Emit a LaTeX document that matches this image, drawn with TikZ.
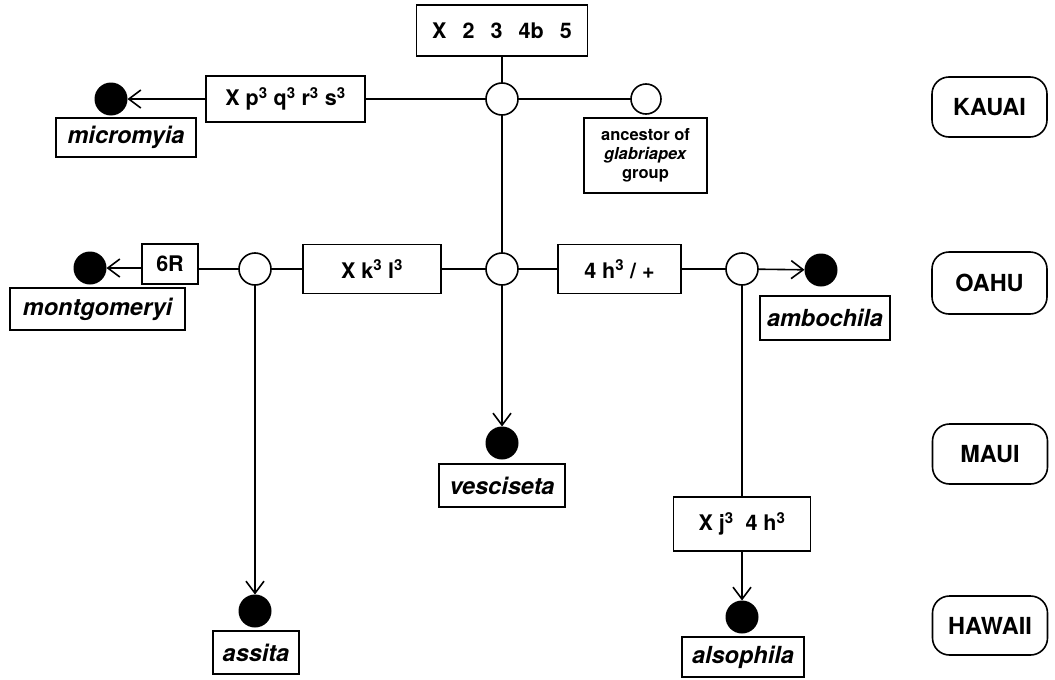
\documentclass[tikz,border=0pt]{standalone}
\usepackage{fontspec}
\setmainfont{TeX Gyre Heros}
\usetikzlibrary{arrows.meta}
\begin{document}
\begin{tikzpicture}[x=1pt,y=-1pt,
  every node/.style={inner sep=0pt, outer sep=0pt, align=center},
  line/.style={line width=1.6pt},
  arr/.style={line width=1.6pt, -{Straight Barb[length=12pt,width=18pt,line width=1.6pt]}},
  charbox/.style={draw, line width=1.6pt, font=\fontsize{21.5}{24}\selectfont\bfseries},
  spbox/.style={draw, line width=1.6pt, font=\fontsize{23.5}{26}\selectfont\bfseries\itshape},
  island/.style={draw, line width=1.6pt, rounded corners=17pt, minimum width=115pt, minimum height=60pt, font=\fontsize{23.5}{26}\selectfont\bfseries},
  anc/.style={draw, circle, line width=1.6pt, fill=white, minimum size=32pt},
  tip/.style={circle, fill=black, minimum size=33pt}
]
\useasboundingbox (0,0) rectangle (1055,680);

% island labels
\node[island] (kauai) at (989.5,107) {KAUAI};
\node[island, minimum height=62pt] (oahu) at (989.5,283) {OAHU};
\node[island] (maui) at (990,454) {MAUI};
\node[island, minimum height=59pt] (hawaii) at (990,625.5) {HAWAII};

% ancestral nodes
\node[anc] (K1) at (502,99) {};
\node[anc, minimum size=30pt] (K2) at (646,99) {};
\node[anc] (O2) at (255,269) {};
\node[anc] (O1) at (502,269) {};
\node[anc] (O3) at (742,269) {};

% terminal taxa dots
\node[tip] (mdot) at (111,99) {};
\node[tip] (gdot) at (90,268) {};
\node[tip] (adot) at (821,270) {};
\node[tip] (vdot) at (502,443) {};
\node[tip] (sdot) at (255,611) {};
\node[tip] (ldot) at (742,617) {};

% character boxes
\node[charbox, minimum width=171pt, minimum height=51pt] (top) at (502,30.5) {X\hspace{0.75em}2\hspace{0.75em}3\hspace{0.75em}4b\hspace{0.75em}5};
\node[charbox, minimum width=159pt, minimum height=46pt] (pqrs) at (285.5,99) {X p\textsuperscript{3} q\textsuperscript{3} r\textsuperscript{3} s\textsuperscript{3}};
\node[charbox, minimum width=56pt, minimum height=40pt] (sixR) at (170,264) {6R};
\node[charbox, minimum width=138pt, minimum height=49pt] (kl) at (372,269) {X k\textsuperscript{3} l\textsuperscript{3}};
\node[charbox, minimum width=123pt, minimum height=49pt] (hplus) at (619.5,269) {4 h\textsuperscript{3} / +};
\node[charbox, minimum width=137pt, minimum height=54pt] (jh) at (742,524) {X j\textsuperscript{3}\hspace{0.55em}4 h\textsuperscript{3}};
\node[draw, line width=1.6pt, minimum width=123pt, minimum height=75pt, font=\fontsize{16.5}{19}\selectfont\bfseries] (ancbox) at (645.5,155.5) {ancestor of\\\textit{glabriapex}\\group};

% species boxes
\node[spbox, minimum width=140pt, minimum height=39pt] (micromyia) at (126,137.5) {micromyia};
\node[spbox, minimum width=175pt, minimum height=42pt] (montgomeryi) at (97.5,309) {montgomeryi};
\node[spbox, minimum width=130pt, minimum height=44pt] (ambochila) at (825,318) {ambochila};
\node[spbox, minimum width=126pt, minimum height=43pt] (vesciseta) at (502,485.5) {vesciseta};
\node[spbox, minimum width=86pt, minimum height=43pt] (assita) at (256,652.5) {assita};
\node[spbox, minimum width=122pt, minimum height=40pt] (alsophila) at (743,657) {alsophila};

% connectors
\draw[line] (top) -- (K1);
\draw[line] (K1) -- (O1);
\draw[line] (K1) -- (K2);
\draw[line] (K1) -- (pqrs);
\draw[arr] (pqrs) -- (mdot);
\draw[arr] (O1) -- (vdot);
\draw[line] (O1) -- (kl);
\draw[line] (kl) -- (O2);
\draw[line] (O2) -- (sixR.east |- O2);
\draw[arr] (sixR.west |- gdot) -- (gdot);
\draw[arr] (O2) -- (sdot);
\draw[line] (O1) -- (hplus);
\draw[line] (hplus) -- (O3);
\draw[arr] (O3) -- (adot);
\draw[line] (O3) -- (jh);
\draw[arr] (jh) -- (ldot);
\end{tikzpicture}
\end{document}
